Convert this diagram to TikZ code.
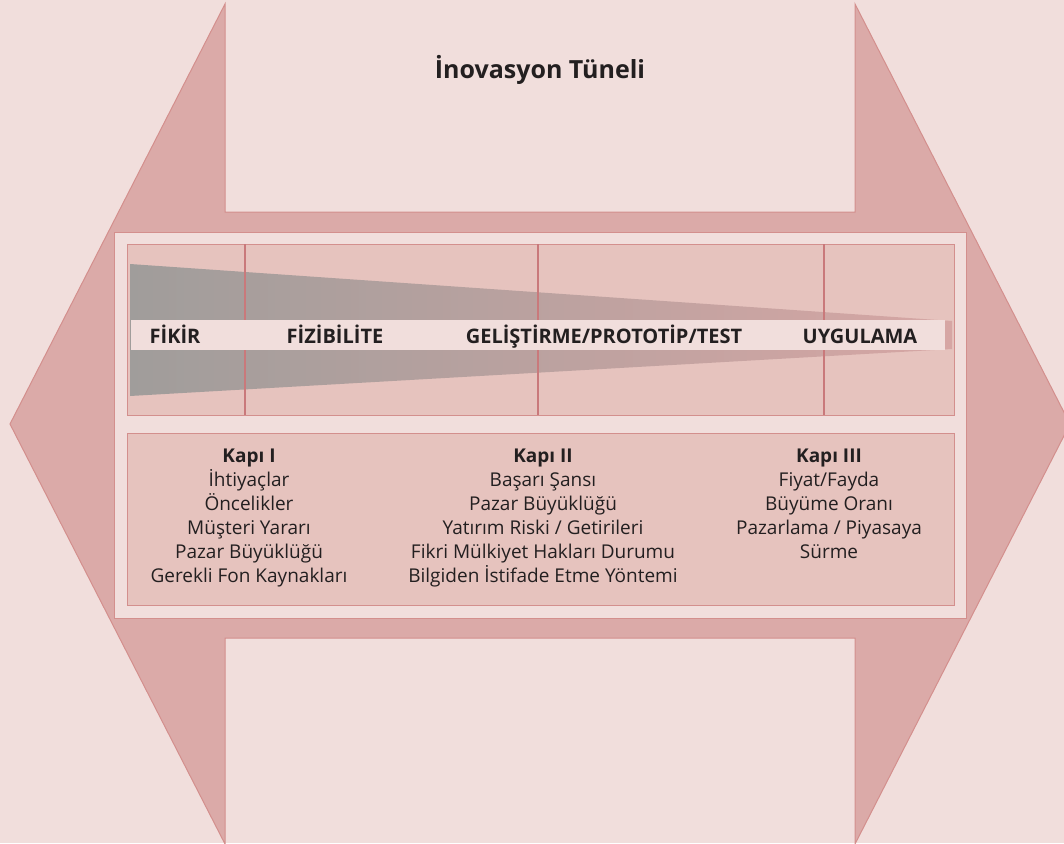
\documentclass[tikz,border=0pt]{standalone}
\usepackage{fontspec}
\setmainfont{Open Sans}
\definecolor{zemin}{RGB}{241,222,220}
\definecolor{okrenk}{RGB}{219,170,168}
\definecolor{kenar}{RGB}{211,143,141}
\definecolor{kutu}{RGB}{230,195,190}
\definecolor{ayirac}{RGB}{201,121,123}
\definecolor{huniA}{RGB}{160,157,155}
\definecolor{huniB}{RGB}{214,166,164}
\definecolor{yazi}{RGB}{35,31,32}
\begin{document}
\begin{tikzpicture}[x=1pt,y=-1pt,
        kenarli/.style={draw=kenar,line width=1pt},
        asama/.style={anchor=base,text=yazi,inner sep=0pt,font=\fontsize{20}{24}\selectfont\bfseries},
        kapi/.style={anchor=north,text=yazi,inner sep=0pt,align=center,font=\fontsize{19}{24}\selectfont}]
    \useasboundingbox (0,0) rectangle (1064,843);
    \fill[zemin] (0,0) rectangle (1064,843);
    % buyuk ok
    \draw[kenarli,fill=okrenk] (225,4) -- (225,212) -- (855,212) -- (855,4) -- (1070,424)
        -- (855,844) -- (855,638) -- (225,638) -- (225,844) -- (10,424) -- cycle;
    \node[text=yazi,anchor=base,inner sep=0pt,font=\fontsize{25}{30}\selectfont\bfseries] (baslik) at (540,78) {İnovasyon Tüneli};
    % ic panel ve kutular
    \draw[kenarli,fill=zemin] (114,232) rectangle (966,618);
    \draw[kenarli,fill=kutu] (127,244) rectangle (954,415)
        (127,433) rectangle (954,605);
    % huni
    \shade[left color=huniA,right color=huniB] (130,264) -- (952,321) -- (952,349) -- (130,396) -- cycle;
    \draw[ayirac,line width=2pt] (245,244) -- (245,415)
        (538,244) -- (538,415)
        (824,244) -- (824,415);
    \fill[zemin] (131,320) rectangle (945,350);
    \node[asama] (fikir) at (175,343) {FİKİR};
    \node[asama] (fizibilite) at (335,343) {FİZİBİLİTE};
    \node[asama] (gelistirme) at (604,343) {GELİŞTİRME/PROTOTİP/TEST};
    \node[asama] (uygulama) at (860,343) {UYGULAMA};
    % kapilar
    \node[kapi] (kapiA) at (249,449) {\textbf{Kapı I}\\İhtiyaçlar\\Öncelikler\\Müşteri Yararı\\Pazar Büyüklüğü\\Gerekli Fon Kaynakları};
    \node[kapi] (kapiB) at (543,449) {\textbf{Kapı II}\\Başarı Şansı\\Pazar Büyüklüğü\\Yatırım Riski / Getirileri\\Fikri Mülkiyet Hakları Durumu\\Bilgiden İstifade Etme Yöntemi};
    \node[kapi] (kapiC) at (829,449) {\textbf{Kapı III}\\Fiyat/Fayda\\Büyüme Oranı\\Pazarlama / Piyasaya\\Sürme};
\end{tikzpicture}
\end{document}
